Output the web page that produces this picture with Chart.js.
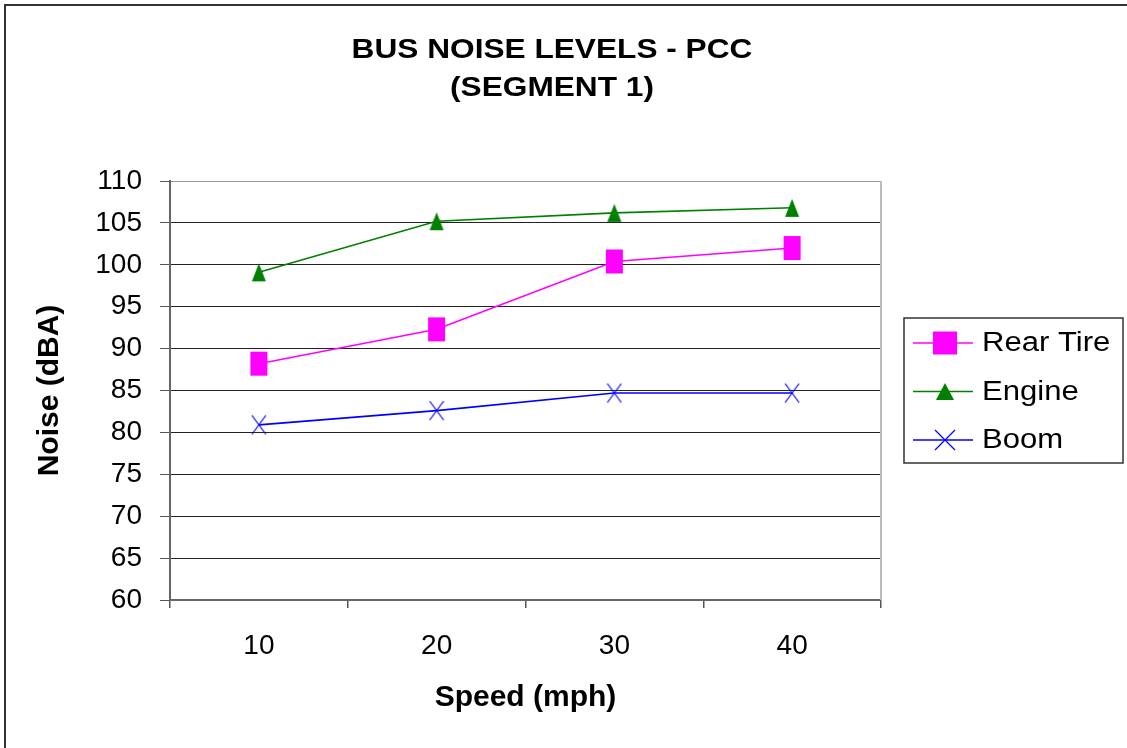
<!DOCTYPE html>
<html>
<head>
<meta charset="utf-8">
<title>Bus Noise Levels - PCC (Segment 1)</title>
<script src="https://cdn.jsdelivr.net/npm/chart.js@4/dist/chart.umd.min.js"></script>
<style>
  html, body { margin: 0; padding: 0; background: #fff; }
  canvas { display: block; }
</style>
</head>
<body>
<canvas id="c" width="1127" height="748"></canvas>
<script>
// Bus speed categories (mph)
const speeds = ['10', '20', '30', '40'];

// Measured noise levels (dBA) per source
const rearTire = [88.2, 92.3, 100.4, 102.0];
const engine   = [99.1, 105.2, 106.2, 106.8];
const boom     = [80.9, 82.6, 84.7, 84.7];

// Noise axis range
const yMin = 60;
const yMax = 110;
const yStep = 5;

const titleLines = ['BUS NOISE LEVELS - PCC', '(SEGMENT 1)'];

const FONT = '"Liberation Sans", Arial, Helvetica, sans-serif';
const COLORS = { rear: '#FF00FF', engine: '#008000', boom: '#0000FF' };

// Draws a marker shape into a path/stroke on a given context
function drawShape(ctx, kind, color, cx, cy, w, h) {
  ctx.save();
  if (kind === 'square') {
    ctx.fillStyle = color;
    ctx.fillRect(cx - w / 2, cy - h / 2, w, h);
  } else if (kind === 'triangle') {
    ctx.fillStyle = color;
    ctx.beginPath();
    ctx.moveTo(cx, cy - h / 2);
    ctx.lineTo(cx + w / 2, cy + h / 2);
    ctx.lineTo(cx - w / 2, cy + h / 2);
    ctx.closePath();
    ctx.fill();
  } else {
    ctx.strokeStyle = color;
    ctx.lineWidth = 1.2;
    ctx.beginPath();
    ctx.moveTo(cx - w / 2, cy - h / 2);
    ctx.lineTo(cx + w / 2, cy + h / 2);
    ctx.moveTo(cx + w / 2, cy - h / 2);
    ctx.lineTo(cx - w / 2, cy + h / 2);
    ctx.stroke();
  }
  ctx.restore();
}

// Marker images used as point styles
function makeMarker(kind, color, w, h) {
  const cv = document.createElement('canvas');
  cv.width = w + 2;
  cv.height = h + 2;
  drawShape(cv.getContext('2d'), kind, color, (w + 2) / 2, (h + 2) / 2, w, h);
  return cv;
}

const squareMarker = makeMarker('square', COLORS.rear, 17, 24);
const triangleMarker = makeMarker('triangle', COLORS.engine, 14, 18);
const crossMarker = makeMarker('cross', COLORS.boom, 14, 19);

const legendShapes = [
  { kind: 'square', w: 24, h: 23 },
  { kind: 'triangle', w: 18, h: 17 },
  { kind: 'cross', w: 20, h: 20 }
];

// White page with the outer frame on the top and left edges
const framePlugin = {
  id: 'frame',
  beforeDraw(chart) {
    const ctx = chart.ctx;
    ctx.save();
    ctx.fillStyle = '#fff';
    ctx.fillRect(0, 0, chart.width, chart.height);
    ctx.strokeStyle = '#333';
    ctx.lineWidth = 2;
    ctx.beginPath();
    ctx.moveTo(5, chart.height);
    ctx.lineTo(5, 5);
    ctx.lineTo(chart.width, 5);
    ctx.stroke();
    ctx.restore();
  },
  beforeDatasetsDraw(chart) {
    const { ctx, chartArea } = chart;
    ctx.save();
    ctx.strokeStyle = '#bbb';
    ctx.lineWidth = 2;
    ctx.beginPath();
    ctx.moveTo(chartArea.right, chartArea.top);
    ctx.lineTo(chartArea.right, chartArea.bottom);
    ctx.stroke();
    ctx.restore();
  }
};

// Two-line bold heading
const headingPlugin = {
  id: 'heading',
  afterDraw(chart) {
    const ctx = chart.ctx;
    ctx.save();
    ctx.fillStyle = '#000';
    ctx.font = 'bold 28px ' + FONT;
    ctx.textAlign = 'center';
    ctx.textBaseline = 'alphabetic';
    const baselines = [58, 96];
    titleLines.forEach((line, i) => {
      ctx.save();
      ctx.translate(552, baselines[i]);
      ctx.scale(1.13, 1);
      ctx.fillText(line, 0, 0);
      ctx.restore();
    });
    ctx.restore();
  }
};

// Boxed legend on the right side
const boxLegendPlugin = {
  id: 'boxLegend',
  afterDraw(chart) {
    const ctx = chart.ctx;
    ctx.save();
    ctx.strokeStyle = '#333';
    ctx.lineWidth = 1.5;
    ctx.strokeRect(904, 318, 219, 145);
    chart.data.datasets.forEach((ds, i) => {
      const y = 343 + i * 48.5;
      ctx.strokeStyle = ds.borderColor;
      ctx.lineWidth = 1.5;
      ctx.beginPath();
      ctx.moveTo(913, y);
      ctx.lineTo(973, y);
      ctx.stroke();
      const s = legendShapes[i];
      drawShape(ctx, s.kind, ds.borderColor, 945, y, s.w, s.h);
      ctx.save();
      ctx.fillStyle = '#000';
      ctx.font = '27px ' + FONT;
      ctx.textAlign = 'left';
      ctx.textBaseline = 'middle';
      ctx.translate(982, y + 1);
      ctx.scale(1.15, 1);
      ctx.fillText(ds.label, 0, 0);
      ctx.restore();
    });
    ctx.restore();
  }
};

const series = [
  { label: 'Rear Tire', data: rearTire, color: COLORS.rear, marker: squareMarker },
  { label: 'Engine', data: engine, color: COLORS.engine, marker: triangleMarker },
  { label: 'Boom', data: boom, color: COLORS.boom, marker: crossMarker }
];

new Chart(document.getElementById('c'), {
  type: 'line',
  data: {
    labels: speeds,
    datasets: series.map(s => ({
      label: s.label,
      data: s.data,
      borderColor: s.color,
      backgroundColor: s.color,
      borderWidth: 1.6,
      pointStyle: s.marker,
      pointRadius: 10,
      tension: 0,
      fill: false
    }))
  },
  options: {
    responsive: false,
    animation: false,
    events: [],
    layout: { padding: { top: 181, right: 246, left: 0, bottom: 0 } },
    plugins: {
      legend: { display: false },
      title: { display: false },
      tooltip: { enabled: false }
    },
    scales: {
      x: {
        type: 'category',
        offset: true,
        grid: {
          offset: true,
          drawOnChartArea: false,
          drawTicks: true,
          tickLength: 8,
          color: '#555',
          lineWidth: 1.5
        },
        border: { color: '#666', width: 2 },
        ticks: {
          color: '#000',
          font: { family: FONT, size: 28 },
          padding: 21,
          maxRotation: 0
        },
        title: {
          display: true,
          text: 'Speed (mph)',
          color: '#000',
          font: { family: FONT, size: 30, weight: 'bold' },
          padding: { top: 0, bottom: 32 }
        },
        afterFit(scale) { scale.height = 148; }
      },
      y: {
        min: yMin,
        max: yMax,
        ticks: {
          stepSize: yStep,
          color: '#000',
          font: { family: FONT, size: 28 },
          padding: 18
        },
        grid: {
          color: c => (c.tick && c.tick.value === yMax ? '#999' : '#222'),
          lineWidth: 1,
          tickLength: 10,
          tickColor: '#555'
        },
        border: { color: '#666', width: 2 },
        title: {
          display: true,
          text: 'Noise (dBA)',
          color: '#000',
          font: { family: FONT, size: 30, weight: 'bold' },
          padding: { top: 32, bottom: 0 }
        },
        afterFit(scale) { scale.width = 170; }
      }
    }
  },
  plugins: [framePlugin, headingPlugin, boxLegendPlugin]
});
</script>
</body>
</html>
